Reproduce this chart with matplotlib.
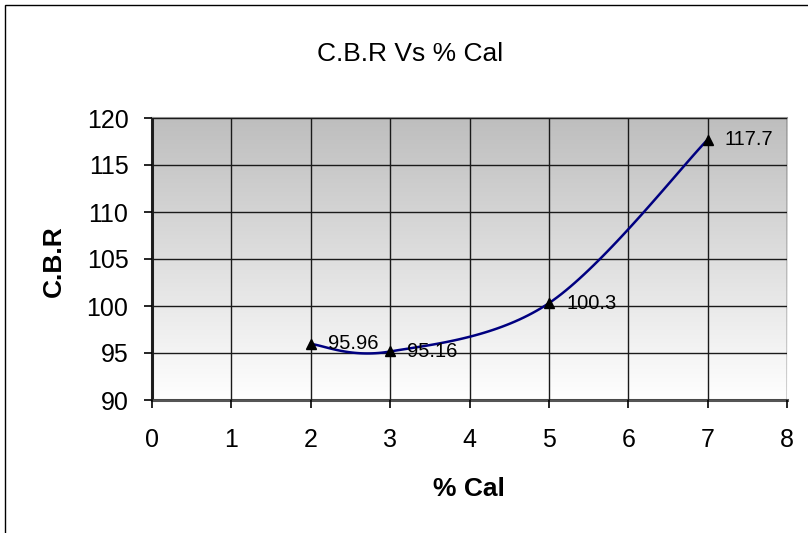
import matplotlib
matplotlib.use('Agg')
import matplotlib.pyplot as plt
import numpy as np
from matplotlib.patches import Rectangle

cal = [2, 3, 5, 7]
cbr = [95.96, 95.16, 100.3, 117.7]
point_labels = ['95.96', '95.16', '100.3', '117.7']

plt.rcParams['font.family'] = ['Liberation Sans', 'DejaVu Sans']


def smooth_curve(x, y, n=40):
    # excel-like smoothed line (catmull-rom style bezier)
    x = np.asarray(x, float)
    y = np.asarray(y, float)
    px = np.concatenate([[x[0]], x, [x[-1]]])
    py = np.concatenate([[y[0]], y, [y[-1]]])
    xs, ys = [], []
    t = np.linspace(0, 1, n)
    for i in range(1, len(px) - 2):
        p0 = np.array([px[i], py[i]])
        p3 = np.array([px[i + 1], py[i + 1]])
        p1 = p0 + (np.array([px[i + 1], py[i + 1]]) - np.array([px[i - 1], py[i - 1]])) / 6
        p2 = p3 - (np.array([px[i + 2], py[i + 2]]) - np.array([px[i], py[i]])) / 6
        b = ((1 - t) ** 3)[:, None] * p0 + (3 * (1 - t) ** 2 * t)[:, None] * p1 \
            + (3 * (1 - t) * t ** 2)[:, None] * p2 + (t ** 3)[:, None] * p3
        xs.extend(b[:, 0])
        ys.extend(b[:, 1])
    return np.array(xs), np.array(ys)


W, H = 808, 533
fig = plt.figure(figsize=(W / 100, H / 100), dpi=100)
fig.patches.append(Rectangle((5 / W, -0.1), 1.1, 1 - 5 / H + 0.1, transform=fig.transFigure,
                             fill=False, edgecolor='black', linewidth=1))
ax = fig.add_axes([152 / W, 1 - 400 / H, 635 / W, 282 / H])

grad = np.linspace(0, 1, 256)[:, None]
ax.imshow(grad, extent=[0, 1, 0, 1], transform=ax.transAxes, aspect='auto',
          cmap=matplotlib.colors.LinearSegmentedColormap.from_list('g', ['#ffffff', '#bebebe']),
          origin='lower', zorder=0)

sx, sy = smooth_curve(cal, cbr)
ax.plot(sx, sy, color='#000080', linewidth=1.8, zorder=3)
ax.plot(cal, cbr, linestyle='none', marker='^', color='black', markersize=7.5, zorder=4)
for x, y, s in zip(cal, cbr, point_labels):
    ax.annotate(s, (x, y), xytext=(12.5, 0), textcoords='offset points', fontsize=14.5,
                va='center', ha='left', zorder=5)

ax.set_xlim(0, 8)
ax.set_ylim(90, 120)
ax.set_xticks(range(0, 9))
ax.set_yticks(range(90, 121, 5))
ax.grid(True, color='#1a1a1a', linewidth=1.0, zorder=1)
ax.set_axisbelow(False)
ax.spines['right'].set_visible(False)
ax.spines['top'].set_linewidth(1.5)
ax.spines['top'].set_color('#909090')
ax.spines['left'].set_linewidth(2.2)
ax.spines['left'].set_color('#222222')
ax.spines['bottom'].set_linewidth(2.2)
ax.spines['bottom'].set_color('#555555')
ax.tick_params(labelsize=18, length=6, width=1.2)
ax.tick_params(axis='x', pad=14)
ax.tick_params(axis='y', pad=11)

fig.text(469 / W, 1 - 489 / H, '% Cal', ha='center', va='center', fontsize=19, fontweight='bold')
fig.text(54 / W, 1 - 261 / H, 'C.B.R', ha='center', va='center', fontsize=19, fontweight='bold',
         rotation=90)
fig.text(410 / W, 1 - 54 / H, 'C.B.R Vs % Cal', ha='center', va='center', fontsize=19)

fig.savefig('out.png', dpi=100)
